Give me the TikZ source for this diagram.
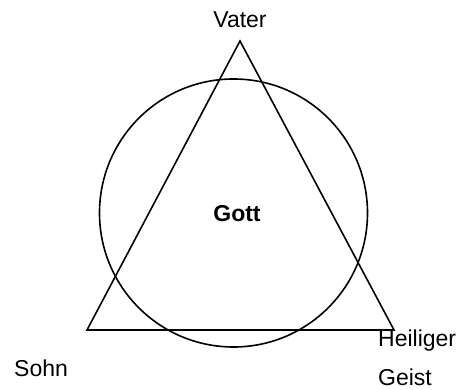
\documentclass[tikz,border=0pt]{standalone}
\usepackage{fontspec}
\setmainfont{Liberation Sans}
\begin{document}
\begin{tikzpicture}[x=1pt,y=1pt,
  lbl/.style={inner sep=0pt,font=\fontsize{23}{27}\selectfont},
  shape line/.style={line width=1.6pt,black}]
\useasboundingbox (0,0) rectangle (460,390);
\coordinate (top) at (240,349);
\coordinate (left) at (87,60);
\coordinate (right) at (394,60);
\coordinate (center) at (233.5,177);
\draw[shape line,line join=miter] (top) -- (left) -- (right) -- cycle;
\draw[shape line] (center) circle[radius=134];
\node[lbl,anchor=base] (vater) at (240,362) {Vater};
\node[lbl,anchor=base,font=\fontsize{23}{27}\selectfont\bfseries] (gott) at (237,168) {Gott};
\node[lbl,anchor=base west] (sohn) at (14,13) {Sohn};
\node[lbl,anchor=base west] (heiliger) at (378,43) {Heiliger};
\node[lbl,anchor=base west] (geist) at (378,4) {Geist};
\end{tikzpicture}
\end{document}
